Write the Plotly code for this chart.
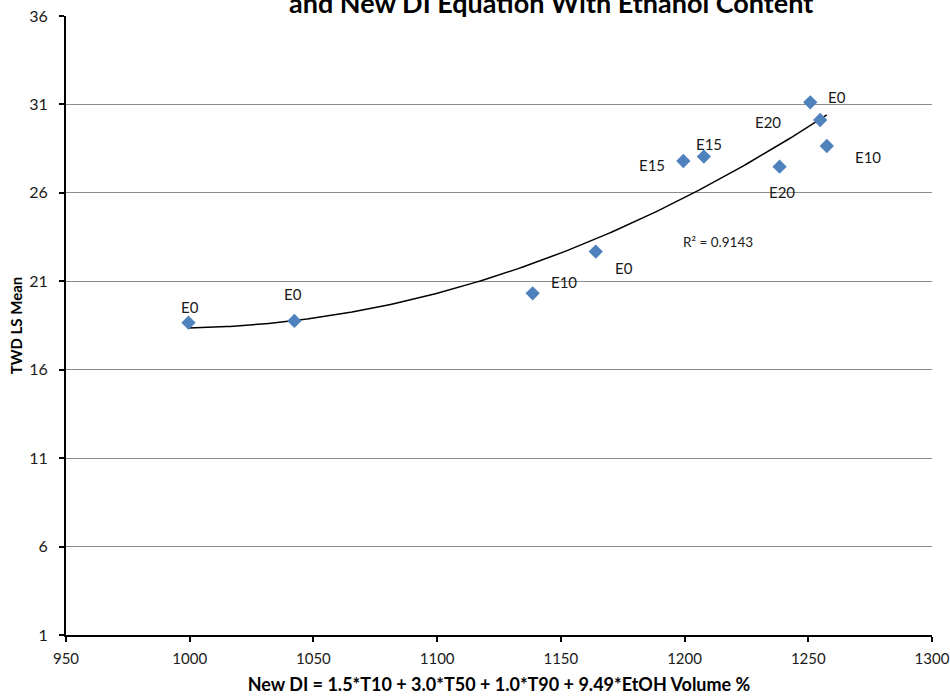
import numpy as np
import plotly.graph_objects as go

# New DI values and TWD least-squares means, with ethanol blend labels
new_di = [999.5, 1042.3, 1138.6, 1164.1, 1199.5, 1207.8, 1238.4, 1250.8, 1254.8, 1257.5]
twd_mean = [18.66, 18.76, 20.32, 22.68, 27.80, 28.05, 27.48, 31.12, 30.12, 28.65]
blend = ["E0", "E0", "E10", "E0", "E15", "E15", "E20", "E0", "E20", "E10"]

x_ticks = [950, 1000, 1050, 1100, 1150, 1200, 1250, 1300]
y_ticks = [1, 6, 11, 16, 21, 26, 31, 36]

# pixel offsets of each point label relative to its marker
label_dx = [2, -1, 31, 28, -31, 5, 2, 27, -52, 41]
label_dy = [16, 27, 11, -16, -4, 13, -25, 5, -2, -11]

FONT = "Lato, 'Open Sans', sans-serif"

# second-order polynomial trendline
coef = np.polyfit(new_di, twd_mean, 2)
fit_x = np.linspace(min(new_di), max(new_di), 200)
fit_y = np.polyval(coef, fit_x)

fig = go.Figure()
fig.add_trace(go.Scatter(
    x=fit_x, y=fit_y, mode="lines",
    line=dict(color="black", width=1.5), hoverinfo="skip", showlegend=False,
))
fig.add_trace(go.Scatter(
    x=new_di, y=twd_mean, mode="markers",
    marker=dict(symbol="diamond", size=11, color="#4F81BD",
                line=dict(width=0)),
    showlegend=False,
))

for x, y, t, dx, dy in zip(new_di, twd_mean, blend, label_dx, label_dy):
    fig.add_annotation(x=x, y=y, text=t, showarrow=False,
                       xshift=dx, yshift=dy,
                       font=dict(family=FONT, size=15, color="#1a1a1a"))

fig.add_annotation(x=1213.5, y=23.2, text="R\u00b2 = 0.9143", showarrow=False,
                   font=dict(family=FONT, size=13.5, color="#1a1a1a"))

fig.add_annotation(xref="paper", yref="paper", x=0.56, y=1, yshift=-5,
                   xanchor="center", yanchor="bottom",
                   text="<b>and New DI Equation With Ethanol Content</b>",
                   showarrow=False,
                   font=dict(family=FONT, size=27, color="black"))

fig.update_layout(
    width=950, height=698,
    margin=dict(l=66, r=18, t=16, b=63, autoexpand=False),
    paper_bgcolor="white", plot_bgcolor="white",
    font=dict(family=FONT, color="#1a1a1a"),
    xaxis=dict(
        range=[950, 1300], tickvals=x_ticks, ticktext=[str(v) for v in x_ticks],
        showgrid=False, zeroline=False,
        showline=True, linecolor="black", linewidth=2,
        ticks="outside", ticklen=5, tickwidth=1.5, tickcolor="black",
        tickfont=dict(size=15), ticklabelstandoff=4,
        title=dict(text="<b>New DI = 1.5*T10 + 3.0*T50 + 1.0*T90 + 9.49*EtOH Volume %</b>",
                   font=dict(size=18, color="black"), standoff=12),
    ),
    yaxis=dict(
        range=[1, 36], tickvals=y_ticks, ticktext=[str(v) for v in y_ticks],
        showgrid=True, gridcolor="#8c8c8c", gridwidth=1, zeroline=False,
        showline=True, linecolor="black", linewidth=2,
        ticks="outside", ticklen=5, tickwidth=1.5, tickcolor="black",
        tickfont=dict(size=16), ticklabelstandoff=8,
        title=dict(text="<b>TWD LS Mean</b>", font=dict(size=15, color="black"),
                   standoff=3),
    ),
)

fig.write_html("out.html")
